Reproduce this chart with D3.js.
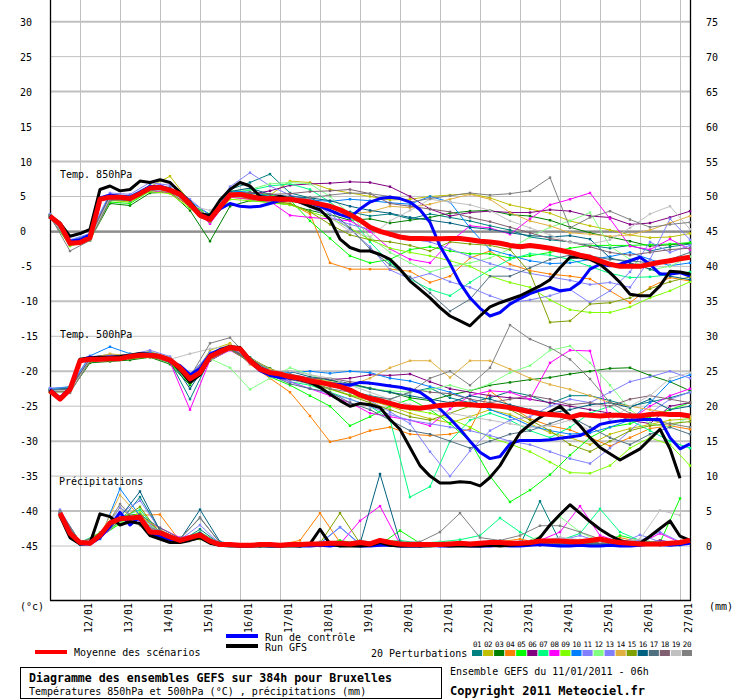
<!DOCTYPE html>
<html>
<head>
<meta charset="utf-8">
<script src="https://cdn.jsdelivr.net/npm/d3@7"></script>
<style>
  body { margin: 0; background: #fff; }
  svg { display: block; }
  text { font-family: "DejaVu Sans Mono", "Liberation Mono", monospace; font-size: 10px; fill: #000; }
</style>
</head>
<body>
<svg id="chart" width="740" height="700"></svg>
<script>
// Time axes: hours since 11/01/2011 06h
const HOURS6 = d3.range(0, 385, 6);          // main runs, temperatures
const HOURS12 = d3.range(0, 385, 12);        // perturbations, temperatures
const PRECIP_H6 = d3.range(6, 385, 6);       // main runs, precipitation
const PRECIP_H12 = d3.range(6, 379, 12);     // perturbations, precipitation
const DAY_HOURS = d3.range(18, 384, 24);
const DAY_LABELS = ['12/01', '13/01', '14/01', '15/01', '16/01', '17/01', '18/01', '19/01',
  '20/01', '21/01', '22/01', '23/01', '24/01', '25/01', '26/01', '27/01'];
const TEMP_TICKS = d3.range(30, -46, -5);
const MM_TICKS = d3.range(75, -1, -5);

const MEMBER_COLORS = ['#008080', '#c0c000', '#008000', '#ff8000', '#00ff00', '#800080', '#00ff80',
  '#ff00ff', '#80ff00', '#0080ff', '#8080ff', '#80ff80', '#8080ff', '#e0b040', '#80a000',
  '#006080', '#507080', '#806070', '#c0c0c0', '#808080'];
const MEMBER_IDS = ['01', '02', '03', '04', '05', '06', '07', '08', '09', '10',
  '11', '12', '13', '14', '15', '16', '17', '18', '19', '20'];

// T850 (°C), 6-hourly
const t850Mean = [2.2,1.0,-1.7,-1.6,-0.9,4.6,4.9,4.9,4.7,5.4, 6.2,6.3,5.9,5.3,3.9,2.3,1.7,3.5,5.2,5.3,
  5.0,4.7,4.7,4.6,4.6,4.4,4.2,3.9,3.6,3.1, 2.4,1.6,0.6,0.0,-0.4,-0.8,-1.0,-1.0,-1.05,-1.05,
  -1.0,-1.0,-1.2,-1.4,-1.5,-1.7,-2.0,-2.2,-2.0,-2.2, -2.4,-2.7,-3.0,-3.4,-3.7,-4.2,-4.7,-5.0,-5.0,-5.0,
  -4.7,-4.4,-4.2,-3.9,-3.7];
const t850Ctrl = [2.2,1.1,-1.4,-1.2,-0.5,4.8,5.2,5.0,4.9,5.6, 6.4,6.5,6.0,5.2,3.8,2.4,2.0,3.2,4.0,3.6,
  3.5,3.6,4.0,4.4,4.6,4.3,4.1,3.6,3.0,2.4, 2.0,3.2,4.2,4.7,4.9,4.7,4.2,3.1,1.3,-2.1,
  -4.6,-7.4,-9.5,-11.0,-12.1,-11.6,-10.4,-9.6,-8.9,-8.4, -8.0,-8.5,-8.3,-7.3,-5.4,-4.7,-4.9,-4.7,-4.2,-3.7,
  -4.7,-6.1,-6.1,-5.9,-6.4];
const t850Gfs = [2.2,1.2,-0.7,-0.3,0.3,6.0,6.5,5.8,6.0,7.2, 7.0,7.4,7.0,5.6,4.2,2.5,2.3,4.5,6.0,7.0,
  6.5,5.0,4.8,5.0,4.6,4.2,3.6,3.1,1.7,-1.1, -2.3,-2.8,-2.8,-3.3,-4.0,-5.4,-7.1,-8.3,-9.5,-10.9,
  -12.1,-12.8,-13.5,-12.1,-10.8,-10.2,-9.7,-9.2,-8.5,-7.8, -6.9,-5.2,-3.7,-3.7,-4.0,-4.7,-5.9,-7.3,-9.0,-9.2,
  -9.2,-7.8,-5.7,-5.8,-6.1];

// T850 perturbations 01..20, 12-hourly
const t850Members = [
  [2.3,-1.4,-0.6,5.2,5.0,6.5,6.3,3.4,1.2,6.0,7.0,8.2, 5.5,4.8,3.5,2.8,2.2,2.5,1.8,2.5,2.0,1.5,0.8,0.2,-0.8,-1.2,-1.5,-2.0,-2.4,-2.0,-2.8,-2.2,-1.8],
  [2.1,-1.8,-1.0,4.6,4.8,6.4,7.9,4.2,2.0,5.6,5.4,5.2, 7.2,7.0,6.0,5.5,5.0,4.5,4.6,5.0,5.2,5.4,4.8,3.8,3.2,2.6,1.5,0.8,0.2,-0.5,-0.9,-0.8,-0.3],
  [2.0,-2.0,-1.2,4.0,3.7,5.5,5.6,3.0,-1.4,3.6,4.4,4.2, 3.8,3.0,2.4,1.6,1.8,1.2,1.6,2.0,2.6,2.9,3.0,2.4,2.2,1.6,0.6,-0.2,-0.8,-1.4,-2.1,-1.9,-1.7],
  [2.0,-1.5,-0.5,4.5,4.2,5.9,5.6,3.5,1.8,4.9,4.6,4.3, 4.0,2.5,-4.5,-5.4,-5.4,-5.4,-5.7,-7.3,-6.4,-3.8,-2.8,-4.7,-5.6,-6.1,-6.4,-6.8,-8.5,-10.2,-8.0,-6.6,-7.1],
  [2.4,-1.6,-0.7,4.2,4.0,5.8,6.1,3.8,2.5,5.0,5.5,5.2, 4.5,1.5,-1.0,-3.5,-4.5,-4.0,-2.6,-2.2,-2.8,-3.2,-3.2,-3.8,-3.5,-3.0,-2.4,-2.0,-2.0,-2.0,-1.9,-1.8,-1.6],
  [2.2,-1.9,-1.1,4.7,4.5,6.0,5.7,3.6,1.4,5.1,5.3,5.8, 6.6,6.8,6.9,7.1,7.0,6.4,5.0,3.2,2.2,2.7,2.9,2.7,2.7,3.1,2.9,2.2,2.0,1.0,1.2,2.0,2.9],
  [2.3,-1.5,-0.8,5.0,4.9,6.3,6.0,4.1,1.9,5.6,5.9,6.5, 6.8,6.0,4.2,2.0,-1.5,-4.5,-6.8,-8.3,-9.2,-7.3,-5.5,-4.0,-3.2,-3.4,-4.0,-5.0,-6.0,-6.6,-6.5,-6.2,-5.8],
  [2.0,-1.6,-0.9,4.8,4.6,5.8,5.5,3.7,1.1,4.9,4.6,4.3, 2.3,2.0,1.8,1.5,0.0,-2.5,-4.0,-4.5,-1.5,0.8,0.5,-0.4,1.8,3.8,4.6,5.5,1.8,-2.1,-2.6,-1.1,-2.6],
  [2.1,-2.1,-1.3,4.4,4.3,5.7,5.4,3.3,1.4,4.6,4.4,4.1, 3.8,2.8,1.9,0.5,-1.2,-2.4,-3.0,-3.5,-4.2,-5.0,-6.4,-7.3,-8.0,-9.8,-11.2,-11.6,-11.6,-10.8,-9.5,-8.5,-7.2],
  [2.4,-1.3,-0.4,5.3,5.1,6.6,6.2,4.3,2.4,5.8,5.6,5.0, 4.8,4.5,4.3,4.6,4.4,4.1,3.9,5.0,4.2,0.5,-2.6,-3.4,-4.2,-4.6,-4.5,-4.0,-3.6,-3.0,-4.0,-4.9,-4.5],
  [2.5,-1.2,-0.3,5.5,5.3,7.0,6.6,4.6,2.2,6.4,8.4,6.5, 5.2,4.5,2.5,0.3,-2.2,-5.5,-6.8,-6.0,-7.2,-8.0,-9.2,-10.2,-9.8,-9.2,-8.3,-10.2,-8.5,-5.8,-1.5,-3.0,-2.0],
  [2.2,-1.5,-0.8,4.9,4.8,6.0,6.0,3.8,1.6,5.8,6.0,6.8, 7.0,6.8,5.0,2.5,-0.8,-3.0,-4.5,-5.8,-5.0,-4.5,-3.8,-2.5,-0.8,0.6,1.5,2.7,-2.1,-4.0,-5.5,-5.0,-3.6],
  [2.0,-1.7,-1.0,4.7,4.4,6.1,5.8,3.9,2.0,5.4,5.2,4.8, 4.5,3.5,2.0,1.0,0.3,-0.6,-1.1,-1.5,-2.5,-3.6,-4.6,-5.4,-6.0,-6.5,-7.0,-7.6,-7.3,-8.0,-4.0,1.8,-1.2],
  [2.3,-1.4,-0.6,5.0,4.7,6.3,6.0,4.0,1.8,5.3,5.1,4.6, 4.4,4.0,3.0,2.5,2.8,3.6,3.4,3.9,4.6,5.3,4.6,2.7,1.5,0.8,-0.2,-0.4,-0.7,-0.5,0.2,1.2,2.2],
  [2.1,-1.9,-1.1,4.5,4.5,6.0,5.6,3.6,1.5,5.0,4.7,4.4, 4.0,2.8,1.0,-0.5,-1.2,-1.5,-2.0,-2.8,-1.5,-1.8,-2.0,-2.6,-5.9,-13.0,-12.8,-10.4,-10.2,-9.5,-8.2,-7.2,-6.5],
  [2.2,-1.6,-0.8,5.1,4.8,6.4,6.1,3.6,1.6,5.7,6.2,5.3, 5.0,4.8,4.4,3.6,3.0,2.6,2.0,1.6,1.2,0.6,0.3,-0.2,-0.6,-0.8,-0.6,-1.1,-3.8,-4.5,-5.4,-6.4,-6.9],
  [2.0,-1.8,-1.0,4.6,4.4,5.9,5.8,3.8,1.5,5.4,5.2,5.0, 4.9,4.2,3.0,0.5,-2.5,-4.8,-6.5,-8.8,-11.4,-9.7,-6.4,-6.4,-5.2,-4.0,-3.4,-3.5,-4.0,-4.2,-4.5,-4.0,-3.0],
  [2.3,-1.5,-0.7,5.0,4.9,6.2,6.1,3.8,1.7,5.5,5.6,5.3, 5.4,5.7,5.8,6.0,5.4,4.0,3.6,3.2,2.8,2.0,1.4,0.6,-0.2,-1.0,-1.5,-2.2,-3.0,-3.4,-3.0,-2.6,-2.4],
  [2.1,-1.7,-1.0,4.8,4.6,6.0,5.7,3.7,3.0,5.0,4.8,4.5, 4.3,3.8,2.0,0.0,-0.8,1.5,3.0,4.6,4.2,3.8,3.0,1.5,0.5,-0.5,-1.6,-1.8,-1.2,0.5,2.5,3.6,0.3],
  [2.2,-2.8,-1.3,4.4,4.7,6.1,5.8,3.9,2.0,5.1,5.0,4.6, 4.5,4.8,5.2,5.5,5.4,5.0,4.2,4.7,5.1,5.5,5.2,5.4,5.8,7.7,0.5,2.0,2.9,1.7,0.6,1.0,1.3]
];

// T500 (°C), 6-hourly
const t500Mean = [-22.8,-24.0,-22.6,-18.5,-18.3,-18.3,-18.2,-18.2,-17.9,-17.7, -17.7,-17.9,-18.4,-19.5,-21.1,-20.2,-17.9,-17.2,-16.6,-16.8,
  -18.5,-19.7,-20.2,-20.4,-20.8,-21.0,-21.4,-21.6,-21.9,-22.2, -22.7,-23.4,-23.9,-24.2,-24.6,-25.0,-25.2,-25.3,-25.1,-24.9,
  -24.8,-24.7,-24.8,-24.9,-24.9,-25.0,-25.2,-25.5,-25.8,-26.1, -26.2,-26.3,-26.6,-26.2,-26.3,-26.4,-26.3,-26.3,-26.4,-26.4,
  -26.2,-26.1,-26.2,-26.2,-26.4];
const t500Ctrl = [-22.6,-23.8,-22.4,-18.4,-18.0,-18.1,-18.0,-18.1,-17.8,-17.5, -17.6,-17.9,-18.6,-19.2,-20.5,-19.6,-17.6,-16.9,-16.5,-16.8,
  -18.6,-19.9,-20.6,-20.9,-21.0,-21.2,-21.5,-21.6,-21.8,-21.9, -22.0,-21.6,-21.7,-21.9,-22.1,-22.3,-22.6,-23.0,-24.0,-25.4,
  -26.8,-28.3,-30.0,-31.6,-32.5,-32.2,-30.4,-29.9,-29.9,-29.9, -29.8,-29.6,-29.4,-29.2,-28.5,-27.6,-27.3,-27.1,-27.0,-26.9,
  -26.9,-26.9,-29.5,-31.1,-30.4];
const t500Gfs = [-22.7,-23.9,-22.5,-18.3,-18.1,-18.0,-18.0,-17.9,-17.7,-17.5, -17.6,-17.8,-18.5,-19.8,-21.6,-20.5,-18.0,-17.0,-16.5,-16.6,
  -18.3,-19.5,-20.2,-20.5,-20.8,-21.2,-21.6,-22.3,-23.3,-24.2, -25.0,-24.6,-24.8,-25.2,-26.9,-28.3,-30.9,-33.5,-35.0,-36.0,
  -36.0,-35.8,-35.9,-36.4,-35.2,-33.5,-31.1,-28.8,-27.6,-26.6, -25.8,-25.0,-26.4,-27.8,-29.5,-30.9,-31.8,-32.7,-31.9,-31.1,
  -29.7,-28.3,-31.1,-35.3];

// T500 perturbations 01..20, 12-hourly
const t500Members = [
  [-22.6,-22.4,-18.0,-17.6,-18.2,-17.4,-18.6,-24.0,-18.2,-16.8,-18.0,-19.8, -20.6,-21.2,-22.0,-22.8,-23.5,-24.0,-23.0,-22.4,-23.8,-24.5,-23.8,-22.9,-23.5,-24.6,-23.5,-23.5,-24.2,-25.0,-24.4,-23.8,-23.0],
  [-23.0,-22.8,-18.5,-18.0,-17.5,-17.2,-18.0,-21.5,-17.0,-16.0,-18.8,-20.4, -21.0,-21.8,-22.5,-23.4,-24.2,-25.0,-26.0,-26.8,-27.4,-26.5,-25.5,-26.2,-27.5,-28.8,-29.5,-30.5,-29.0,-28.2,-27.6,-27.0,-26.8],
  [-22.7,-22.9,-18.8,-18.6,-18.4,-18.0,-19.0,-22.0,-18.5,-16.9,-18.2,-19.6, -20.8,-21.0,-21.3,-21.8,-22.4,-23.0,-23.8,-24.2,-23.4,-22.8,-22.0,-21.6,-21.2,-20.9,-20.4,-20.0,-19.6,-19.5,-20.6,-21.5,-22.8],
  [-22.9,-22.5,-18.2,-18.3,-18.0,-17.8,-18.3,-20.6,-17.6,-16.4,-19.0,-21.0, -23.0,-26.4,-30.1,-29.5,-28.5,-28.0,-29.0,-29.2,-29.0,-28.3,-22.8,-25.0,-26.8,-27.8,-28.4,-29.5,-30.7,-29.5,-28.2,-27.8,-28.3],
  [-22.5,-22.3,-18.1,-18.5,-18.1,-17.9,-18.8,-21.8,-18.0,-16.7,-18.6,-20.8, -22.0,-23.5,-25.0,-27.8,-26.5,-25.0,-24.0,-25.5,-27.5,-30.0,-35.0,-38.7,-37.0,-34.8,-32.0,-29.5,-28.0,-27.5,-26.5,-25.5,-24.5],
  [-22.8,-22.7,-18.4,-17.9,-17.6,-17.5,-18.2,-20.8,-17.7,-16.5,-18.3,-20.0, -20.8,-21.0,-21.2,-21.0,-20.5,-20.6,-20.4,-21.5,-22.5,-23.0,-23.5,-23.8,-24.0,-24.5,-25.0,-25.5,-26.0,-27.0,-27.5,-25.0,-24.5],
  [-22.6,-22.5,-18.2,-18.0,-17.7,-17.6,-18.5,-21.3,-17.4,-16.2,-18.4,-20.6, -21.5,-22.0,-23.0,-24.0,-25.0,-26.9,-38.0,-36.5,-30.0,-27.0,-26.0,-27.0,-28.5,-29.5,-28.0,-26.0,-25.0,-27.0,-28.5,-30.0,-31.0],
  [-22.9,-22.8,-18.6,-18.4,-18.1,-17.9,-18.7,-25.5,-18.4,-17.0,-18.6,-20.4, -21.5,-22.5,-23.5,-24.5,-26.0,-26.5,-27.0,-27.8,-25.4,-23.5,-22.8,-23.0,-24.0,-18.8,-17.0,-17.1,-27.3,-27.0,-25.0,-23.5,-22.5],
  [-22.7,-22.6,-18.3,-18.2,-18.0,-17.8,-18.4,-21.0,-18.0,-16.8,-18.4,-20.2, -21.0,-21.8,-22.6,-23.4,-24.0,-24.6,-25.5,-26.0,-26.8,-28.0,-29.5,-30.4,-31.5,-33.0,-34.5,-34.6,-33.5,-31.0,-29.5,-30.5,-33.5],
  [-22.5,-22.2,-17.8,-16.5,-17.5,-17.3,-18.1,-20.5,-17.5,-16.3,-18.2,-19.9, -20.2,-20.0,-20.3,-20.0,-20.2,-21.0,-21.4,-22.2,-23.0,-24.0,-25.5,-26.5,-27.8,-28.5,-29.0,-28.8,-28.0,-27.0,-24.5,-21.5,-20.5],
  [-22.4,-22.4,-17.9,-17.7,-17.6,-17.0,-17.9,-20.7,-17.3,-16.6,-18.9,-20.5, -21.0,-21.8,-22.0,-23.0,-24.2,-25.8,-27.5,-31.5,-35.0,-31.4,-28.5,-27.0,-26.5,-25.0,-24.0,-24.5,-23.0,-21.5,-20.8,-20.0,-21.0],
  [-22.9,-22.7,-18.5,-18.2,-17.8,-17.8,-18.5,-21.4,-18.2,-19.5,-22.6,-21.0, -19.5,-20.5,-21.5,-22.0,-22.5,-22.8,-23.0,-22.6,-22.0,-22.8,-21.8,-20.2,-19.2,-17.0,-16.4,-18.8,-22.0,-25.5,-27.5,-28.0,-26.5],
  [-22.6,-22.5,-18.1,-17.8,-17.7,-17.5,-18.3,-21.2,-17.8,-16.7,-18.7,-20.6, -21.5,-22.5,-23.2,-24.0,-25.0,-26.2,-27.0,-27.5,-28.0,-28.5,-29.2,-30.0,-30.5,-31.5,-32.5,-33.2,-31.0,-28.5,-26.0,-24.0,-23.0],
  [-22.8,-22.6,-18.2,-17.5,-17.8,-17.6,-18.2,-20.9,-17.6,-16.1,-18.1,-19.7, -20.5,-21.0,-21.5,-22.0,-21.0,-19.5,-18.5,-18.5,-20.9,-18.5,-18.5,-19.7,-21.0,-21.9,-22.6,-23.5,-24.5,-25.0,-25.5,-26.0,-26.5],
  [-23.0,-22.9,-18.6,-18.4,-18.2,-18.0,-18.6,-21.6,-18.3,-16.9,-18.7,-20.3, -21.0,-21.5,-22.5,-23.5,-24.5,-25.5,-26.5,-27.0,-26.0,-25.0,-24.5,-25.5,-27.0,-28.5,-30.5,-31.5,-30.0,-28.5,-27.8,-27.5,-27.2],
  [-22.7,-22.4,-18.3,-18.1,-17.9,-17.6,-18.3,-22.5,-18.1,-16.8,-18.4,-20.1, -20.0,-20.8,-21.2,-21.8,-22.5,-23.0,-23.5,-24.0,-24.5,-23.5,-24.0,-24.8,-25.5,-26.0,-25.5,-24.8,-24.5,-25.2,-24.0,-25.5,-25.0],
  [-22.8,-22.5,-18.4,-18.3,-18.0,-17.7,-18.5,-21.2,-18.0,-16.7,-18.6,-20.5, -21.8,-22.5,-23.0,-24.5,-25.5,-27.0,-28.5,-29.0,-30.0,-31.0,-30.0,-29.0,-28.5,-27.5,-26.5,-28.0,-29.5,-30.5,-29.0,-28.0,-29.0],
  [-22.9,-22.6,-18.3,-18.2,-18.0,-17.8,-18.4,-21.0,-17.9,-16.6,-18.5,-20.3, -20.4,-21.0,-21.0,-21.5,-21.8,-22.0,-22.5,-23.0,-23.2,-24.0,-24.5,-24.0,-23.5,-24.0,-24.8,-24.5,-25.0,-24.0,-23.5,-24.0,-24.5],
  [-22.7,-22.8,-18.4,-18.1,-17.8,-17.7,-18.3,-17.5,-16.8,-16.4,-18.3,-20.0, -20.0,-20.5,-21.0,-22.0,-23.0,-24.0,-24.8,-25.5,-26.0,-26.5,-27.0,-27.5,-28.0,-27.8,-27.0,-28.5,-27.0,-25.0,-23.5,-21.0,-20.2],
  [-22.8,-23.1,-18.5,-18.0,-17.9,-17.9,-18.6,-20.8,-16.0,-15.2,-18.2,-20.0, -21.2,-21.8,-22.5,-23.0,-23.6,-24.0,-23.0,-21.0,-20.0,-22.0,-19.5,-13.4,-15.4,-16.6,-18.3,-21.1,-24.5,-26.0,-27.0,-27.5,-28.0]
];

// Precipitation (mm / 6h), 6-hourly from +6h
const precipMean = [4.7,1.8,0.5,0.4,1.5,3.3,3.9,4.0,4.1,2.0, 1.9,1.3,0.8,1.2,1.6,0.7,0.2,0.2,0.1,0.1,
  0.2,0.2,0.1,0.2,0.2,0.3,0.3,0.4,0.4,0.3, 0.5,0.3,0.8,0.5,0.3,0.2,0.2,0.2,0.2,0.3,
  0.4,0.3,0.4,0.5,0.5,0.4,0.4,0.5,0.7,0.7, 0.7,0.6,0.6,0.8,1.0,0.7,0.5,0.4,0.3,0.3, 0.3,0.4,0.5,0.8];
const precipCtrl = [4.5,1.5,0.3,0.3,1.2,2.8,4.8,3.0,4.2,1.6, 1.4,0.9,0.6,1.0,1.8,0.5,0.1,0.1,0.0,0.0,
  0.1,0.0,0.0,0.1,0.0,0.0,0.1,0.0,0.2,0.1, 0.0,0.0,0.1,0.1,0.0,0.0,0.0,0.1,0.0,0.0,
  0.1,0.0,0.0,0.0,0.1,0.0,0.0,0.1,0.2,0.1, 0.0,0.0,0.1,0.0,0.0,0.1,0.0,0.0,0.1,0.3, 0.2,0.1,0.2,0.4];
const precipGfs = [4.3,1.2,0.3,0.4,4.6,4.2,3.0,3.5,3.2,1.5, 1.0,0.5,0.5,0.8,1.2,0.4,0.1,0.0,0.0,0.0,
  0.0,0.0,0.0,0.0,0.0,0.3,2.4,0.3,0.0,0.0, 0.0,0.1,0.5,0.1,0.0,0.0,0.0,0.0,0.1,0.0,
  0.0,0.0,0.0,0.1,0.0,0.1,0.2,0.3,1.2,3.0, 4.5,5.9,4.7,3.5,2.4,1.5,0.8,0.4,0.4,1.4, 2.5,3.6,1.4,0.8];

// Precipitation perturbations 01..20, 12-hourly from +6h
const precipMembers = [
  [4.6,0.4,1.2,3.5,7.0,2.2,0.6,2.4,0.3,0.1,0.1, 0.0,0.1,0.1,0.0,0.2,0.3,0.1,0.0,0.2,0.1,0.0,0.3,0.1,6.4,0.6,0.2,0.1,0.3,0.2,0.1,0.2],
  [4.2,0.3,1.8,5.5,3.0,1.6,0.7,1.0,0.2,0.0,0.1, 0.1,0.2,0.1,0.3,0.2,0.1,0.0,0.2,0.1,0.3,0.2,0.1,0.4,0.2,0.5,0.6,0.3,0.2,0.1,0.4,0.3],
  [4.8,0.5,1.4,4.2,4.6,2.0,0.9,1.3,0.1,0.1,0.0, 0.0,0.1,0.2,0.1,0.0,0.3,0.2,0.1,0.0,0.2,0.1,0.2,0.3,0.2,0.1,0.4,0.2,0.3,0.1,0.2,0.4],
  [4.4,0.3,1.6,3.8,4.4,4.5,0.7,1.4,0.2,0.1,0.1, 0.2,0.8,4.7,0.5,0.2,0.1,0.3,0.2,0.1,0.3,0.2,0.6,1.0,0.4,0.2,0.3,0.5,1.2,0.6,0.3,0.2],
  [5.0,0.6,1.3,3.2,4.0,1.8,1.0,2.0,0.3,0.2,0.1, 0.1,0.0,0.2,0.8,0.3,0.2,2.2,0.4,0.1,0.2,0.5,0.3,0.2,0.6,0.4,0.3,0.2,1.5,0.8,0.5,6.8],
  [4.5,0.4,1.5,4.5,3.6,2.1,0.8,1.5,0.2,0.1,0.0, 0.0,0.1,0.0,0.2,0.1,0.3,0.1,0.0,0.1,0.2,0.0,0.1,0.2,0.1,0.3,0.2,0.1,0.2,0.3,0.8,0.4],
  [4.3,0.5,1.9,4.0,5.2,1.7,0.6,1.2,0.2,0.1,0.1, 0.0,0.1,0.2,0.1,0.3,0.5,0.8,0.4,0.6,0.9,1.5,4.0,2.0,0.6,0.8,1.8,5.3,2.0,0.8,0.5,0.3],
  [4.9,0.6,1.1,3.6,3.8,2.6,1.2,1.8,0.2,0.1,0.1, 0.1,0.1,0.2,0.3,3.6,5.7,0.3,0.3,0.2,0.4,0.2,0.3,0.5,0.8,2.0,5.7,1.5,0.6,0.4,1.8,0.5],
  [4.4,0.3,1.7,3.3,4.8,1.5,0.7,1.1,0.1,0.0,0.0, 0.0,0.1,0.1,0.2,0.1,0.2,0.3,0.2,0.1,0.3,0.4,0.2,0.3,0.5,0.4,0.3,0.8,0.5,0.3,0.4,0.6],
  [4.7,0.2,1.0,8.2,4.3,1.9,0.8,1.7,0.2,0.1,0.0, 0.0,0.2,0.4,2.7,0.3,0.2,0.1,0.4,0.3,0.1,0.2,0.3,0.6,0.3,0.2,0.4,0.3,0.2,0.3,0.2,0.1],
  [5.2,0.5,1.4,4.6,6.5,2.3,0.9,3.0,0.3,0.1,0.1, 0.1,0.2,0.3,2.7,0.2,0.4,0.2,0.1,0.3,0.2,0.3,0.5,0.4,0.6,1.2,0.8,0.4,0.5,0.8,2.0,0.6],
  [4.6,0.4,1.6,3.4,4.0,1.8,0.7,1.4,0.2,0.0,0.1, 0.0,0.0,0.1,0.2,0.4,0.3,0.6,0.2,0.4,0.5,0.3,0.4,0.3,1.4,4.2,2.0,0.6,0.5,0.3,0.4,0.5],
  [4.8,0.5,1.3,5.5,3.4,2.0,1.0,1.9,0.3,0.1,0.1, 0.1,0.1,0.2,0.1,0.2,0.6,0.3,0.1,0.2,0.4,0.2,0.3,0.2,0.4,0.8,1.5,0.6,0.3,1.6,0.6,0.3],
  [4.5,0.4,1.5,7.3,4.2,2.4,0.8,1.5,0.2,0.1,0.0, 0.0,0.1,0.3,0.2,0.1,0.2,0.4,0.2,0.1,0.2,0.3,0.5,0.2,0.3,0.5,0.3,0.4,0.2,0.6,0.3,0.4],
  [4.3,0.3,1.9,3.7,5.6,1.7,0.6,1.0,0.1,0.1,0.0, 0.1,0.3,0.4,4.7,0.4,0.2,0.3,0.2,0.3,0.1,0.2,0.2,0.4,0.3,0.6,0.4,0.5,0.3,0.2,0.3,0.5],
  [4.9,0.5,1.2,4.1,7.8,2.2,0.9,5.2,0.6,0.2,0.1, 0.0,0.0,0.1,0.2,0.3,10.3,0.6,0.2,0.1,0.3,0.2,0.2,0.4,0.2,0.3,0.5,0.3,0.2,0.4,0.3,0.2],
  [4.6,0.4,1.4,3.6,4.5,2.6,1.1,4.0,0.5,0.2,0.1, 0.1,0.1,0.2,0.1,0.2,0.4,0.3,0.2,0.1,0.3,0.4,0.3,0.2,0.4,0.6,0.5,0.3,0.4,0.3,0.5,0.3],
  [4.7,0.5,1.6,3.9,3.2,1.8,0.8,1.6,0.2,0.1,0.1, 0.0,0.1,0.1,0.2,0.1,0.3,0.2,0.1,0.2,0.3,0.1,0.2,0.3,0.5,0.4,0.7,0.5,0.4,0.3,0.2,0.4],
  [4.4,0.3,1.5,4.3,4.1,2.0,0.7,1.7,0.2,0.1,0.0, 0.1,0.0,0.2,0.5,0.3,0.4,0.2,0.3,0.5,0.4,0.3,0.6,0.4,0.8,1.2,0.9,0.6,0.5,1.0,5.1,4.4],
  [5.0,0.6,1.4,6.0,3.0,2.2,1.0,4.1,0.4,0.2,0.1, 0.1,0.2,0.6,0.4,0.8,0.4,0.5,0.6,2.0,4.7,1.2,0.8,1.5,2.9,2.9,2.0,1.0,0.8,0.6,0.5,0.4]
];

const svg = d3.select('#chart');

// Scales: one vertical scale for temperatures, one for rain, sharing the same pixels
const x = d3.scaleLinear().domain([0, 384]).range([50, 690]);
const yT = d3.scaleLinear().domain([30, -45]).range([21.7, 546]);
const yP = d3.scaleLinear().domain([75, 0]).range([21.7, 546]);
const PLOT_TOP = 0;
const PLOT_BOTTOM = 600;

// Grid
const grid = svg.append('g').attr('class', 'grid');
DAY_HOURS.forEach(h => {
    const gx = Math.round(x(h)) + 0.5;
    grid.append('line').attr('x1', gx).attr('x2', gx).attr('y1', PLOT_TOP).attr('y2', PLOT_BOTTOM)
        .attr('stroke', '#c0c0c0').attr('stroke-width', 1);
});
TEMP_TICKS.forEach(v => {
    const gy = yT(v);
    if (v === 0) {
        grid.append('line').attr('x1', 50).attr('x2', 690).attr('y1', gy).attr('y2', gy)
            .attr('stroke', '#b8b8b8').attr('stroke-width', 3);
        grid.append('line').attr('x1', 50).attr('x2', 690).attr('y1', gy + 0.5).attr('y2', gy + 0.5)
            .attr('stroke', '#808080').attr('stroke-width', 1.2);
        return;
    }
    const thick = v % 10 === 0;
    grid.append('line').attr('x1', 50).attr('x2', 690).attr('y1', gy).attr('y2', gy)
        .attr('stroke', '#c0c0c0').attr('stroke-width', thick ? 2 : 1);
});

// Axes frame
const frame = svg.append('g').attr('stroke', '#000').attr('stroke-width', 1.3);
frame.append('line').attr('x1', 50.5).attr('x2', 50.5).attr('y1', PLOT_TOP).attr('y2', PLOT_BOTTOM + 0.5);
frame.append('line').attr('x1', 690.5).attr('x2', 690.5).attr('y1', PLOT_TOP).attr('y2', PLOT_BOTTOM + 0.5);
frame.append('line').attr('x1', 50).attr('x2', 691).attr('y1', PLOT_BOTTOM + 0.5).attr('y2', PLOT_BOTTOM + 0.5);

// Tick labels
const labels = svg.append('g').attr('fill', '#000');
labels.append('g').selectAll('text').data(TEMP_TICKS).join('text')
    .attr('x', 20).attr('y', d => yT(d) + 4).text(d => d);
labels.append('g').selectAll('text').data(MM_TICKS).join('text')
    .attr('x', 706).attr('y', d => yP(d) + 4).text(d => d);
labels.append('text').attr('x', 20).attr('y', 610).text('(°c)');
labels.append('text').attr('x', 709).attr('y', 610).attr('fill', '#000').text('(mm)');
labels.append('g').selectAll('text').data(DAY_HOURS).join('text')
    .attr('transform', d => `translate(${x(d) + 12},603) rotate(-90)`)
    .attr('text-anchor', 'end')
    .text((d, i) => DAY_LABELS[i]);

// Panel titles
labels.append('text').attr('x', 60).attr('y', 178).text('Temp. 850hPa');
labels.append('text').attr('x', 60).attr('y', 338).text('Temp. 500hPa');
labels.append('text').attr('x', 59).attr('y', 485).text('Précipitations');

// Series
const series = svg.append('g').attr('class', 'series');
const lineGen = d3.line();

function drawLine(hours, values, yScale, color, width, markers) {
    const pts = values.map((v, i) => [x(hours[i]), yScale(v)]);
    series.append('path')
        .attr('d', lineGen(pts))
        .attr('fill', 'none')
        .attr('stroke', color)
        .attr('stroke-width', width)
        .attr('stroke-linejoin', 'round');
    if (markers) {
        series.append('g').selectAll('rect').data(pts).join('rect')
            .attr('x', d => d[0] - 1.2).attr('y', d => d[1] - 1.2)
            .attr('width', 2.4).attr('height', 2.4)
            .attr('fill', color);
    }
}

t850Members.forEach((vals, i) => drawLine(HOURS12, vals, yT, MEMBER_COLORS[i], 1, true));
t500Members.forEach((vals, i) => drawLine(HOURS12, vals, yT, MEMBER_COLORS[i], 1, true));
precipMembers.forEach((vals, i) => drawLine(PRECIP_H12, vals, yP, MEMBER_COLORS[i], 1, true));

drawLine(HOURS6, t850Ctrl, yT, '#0000ff', 3, false);
drawLine(HOURS6, t500Ctrl, yT, '#0000ff', 3, false);
drawLine(PRECIP_H6, precipCtrl, yP, '#0000ff', 3, false);

drawLine(HOURS6.slice(0, t850Gfs.length), t850Gfs, yT, '#000000', 3, false);
drawLine(HOURS6.slice(0, t500Gfs.length), t500Gfs, yT, '#000000', 3, false);
drawLine(PRECIP_H6, precipGfs, yP, '#000000', 3, false);

drawLine(HOURS6, t850Mean, yT, '#ff0000', 5, false);
drawLine(HOURS6, t500Mean, yT, '#ff0000', 5, false);
drawLine(PRECIP_H6, precipMean, yP, '#ff0000', 5, false);

// Legend
const legend = svg.append('g');
legend.append('rect').attr('x', 35).attr('y', 650).attr('width', 32).attr('height', 4).attr('fill', '#ff0000');
legend.append('text').attr('x', 74).attr('y', 656).text('Moyenne des scénarios');
legend.append('rect').attr('x', 226).attr('y', 634).attr('width', 32).attr('height', 4).attr('fill', '#0000ff');
legend.append('text').attr('x', 265).attr('y', 641).text('Run de contrôle');
legend.append('rect').attr('x', 226).attr('y', 644).attr('width', 32).attr('height', 4).attr('fill', '#000000');
legend.append('text').attr('x', 265).attr('y', 651).text('Run GFS');
legend.append('text').attr('x', 371).attr('y', 657).text('20 Perturbations');

const swatchX = d3.scaleBand().domain(MEMBER_IDS).range([472, 692]).paddingInner(0.08);
legend.append('g').selectAll('rect').data(MEMBER_IDS).join('rect')
    .attr('x', d => swatchX(d)).attr('y', 650)
    .attr('width', swatchX.bandwidth()).attr('height', 6)
    .attr('fill', (d, i) => MEMBER_COLORS[i]);
legend.append('g').selectAll('text').data(MEMBER_IDS).join('text')
    .attr('x', d => swatchX(d) + swatchX.bandwidth() / 2).attr('y', 647)
    .attr('text-anchor', 'middle')
    .style('font-size', '7.5px').style('letter-spacing', '-0.4px')
    .text(d => d);

// Footer
svg.append('rect').attr('x', 20.5).attr('y', 667.5).attr('width', 421).attr('height', 31)
    .attr('fill', 'none').attr('stroke', '#000').attr('stroke-width', 1);
svg.append('text').attr('x', 29).attr('y', 682).style('font-size', '11.6px').style('font-weight', 'bold')
    .text('Diagramme des ensembles GEFS sur 384h pour Bruxelles');
svg.append('text').attr('x', 29).attr('y', 695)
    .text('Températures 850hPa et 500hPa (°C) , précipitations (mm)');
svg.append('text').attr('x', 450).attr('y', 675).text('Ensemble GEFS du 11/01/2011 - 06h');
svg.append('text').attr('x', 450).attr('y', 695).style('font-size', '12px').style('font-weight', 'bold')
    .text('Copyright 2011 Meteociel.fr');
</script>
</body>
</html>
